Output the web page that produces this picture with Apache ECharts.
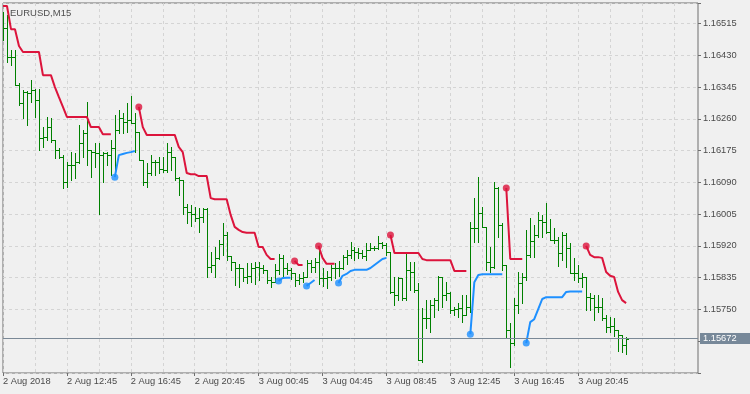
<!DOCTYPE html>
<html><head><meta charset="utf-8">
<script src="https://cdn.jsdelivr.net/npm/echarts@6/dist/echarts.min.js"></script>
<style>html,body{margin:0;padding:0;background:#f0f0f0}#c{width:750px;height:394px}</style>
</head><body><div id="c"></div>
<script>
const chartTitle = 'EURUSD,M15';
const tickLabels = ['2 Aug 2018','2 Aug 12:45','2 Aug 16:45','2 Aug 20:45','3 Aug 00:45','3 Aug 04:45','3 Aug 08:45','3 Aug 12:45','3 Aug 16:45','3 Aug 20:45'];
const bidPrice = 1.15672;

const opens = [1.16524,1.16503,1.16425,1.16425,1.16351,1.16302,1.16332,1.16329,1.16337,1.16310,
1.16209,1.16211,1.16238,1.16203,1.16177,1.16158,1.16091,1.16137,1.16137,1.16145,
1.16195,1.16222,1.16177,1.16171,1.16169,1.16163,1.16169,1.16163,1.16182,1.16230,
1.16262,1.16252,1.16257,1.16249,1.16225,1.16150,1.16091,1.16115,1.16145,1.16145,
1.16126,1.16123,1.16171,1.16158,1.16102,1.16096,1.16024,1.16011,1.16005,1.15995,
1.15997,1.16019,1.15864,1.15869,1.15888,1.15925,1.15949,1.15893,1.15877,1.15861,
1.15861,1.15837,1.15840,1.15861,1.15864,1.15861,1.15856,1.15829,1.15823,1.15856,
1.15888,1.15861,1.15856,1.15848,1.15829,1.15834,1.15837,1.15874,1.15864,1.15877,
1.15834,1.15834,1.15837,1.15861,1.15861,1.15861,1.15890,1.15896,1.15909,1.15904,
1.15901,1.15893,1.15909,1.15914,1.15914,1.15928,1.15922,1.15904,1.15797,1.15789,
1.15834,1.15781,1.15856,1.15850,1.15802,1.15615,1.15727,1.15727,1.15762,1.15775,
1.15837,1.15789,1.15794,1.15749,1.15751,1.15754,1.15735,1.15757,1.15968,1.15968,
1.16008,1.15971,1.15877,1.15864,1.16075,1.15976,1.15869,1.15695,1.15660,1.15762,
1.15821,1.15837,1.15896,1.15933,1.15949,1.15989,1.15984,1.15957,1.15936,1.15936,
1.15901,1.15949,1.15914,1.15848,1.15848,1.15834,1.15837,1.15783,1.15781,1.15757,
1.15757,1.15727,1.15703,1.15706,1.15695,1.15682,1.15655];

const highs = [1.16546,1.16538,1.16444,1.16444,1.16356,1.16337,1.16335,1.16364,1.16340,1.16340,
1.16238,1.16265,1.16262,1.16203,1.16182,1.16163,1.16145,1.16171,1.16169,1.16244,
1.16230,1.16305,1.16177,1.16195,1.16195,1.16171,1.16171,1.16203,1.16270,1.16284,
1.16276,1.16302,1.16321,1.16276,1.16225,1.16150,1.16142,1.16163,1.16150,1.16158,
1.16158,1.16195,1.16185,1.16158,1.16104,1.16096,1.16032,1.16029,1.16024,1.16021,
1.16021,1.16021,1.15904,1.15917,1.15936,1.15981,1.15957,1.15893,1.15877,1.15872,
1.15861,1.15874,1.15874,1.15877,1.15877,1.15869,1.15856,1.15837,1.15872,1.15898,
1.15896,1.15874,1.15861,1.15848,1.15845,1.15850,1.15882,1.15882,1.15888,1.15909,
1.15861,1.15853,1.15869,1.15874,1.15880,1.15896,1.15909,1.15930,1.15917,1.15914,
1.15909,1.15928,1.15928,1.15920,1.15947,1.15930,1.15928,1.15904,1.15837,1.15837,
1.15834,1.15904,1.15877,1.15877,1.15821,1.15754,1.15775,1.15775,1.15781,1.15840,
1.15837,1.15823,1.15797,1.15757,1.15767,1.15789,1.15789,1.15984,1.16048,1.16104,
1.16024,1.15971,1.15917,1.16091,1.16078,1.15981,1.15869,1.15714,1.15781,1.15850,
1.15848,1.15963,1.15995,1.15976,1.16011,1.16003,1.16035,1.15992,1.15968,1.15944,
1.15957,1.15955,1.15928,1.15888,1.15869,1.15848,1.15837,1.15794,1.15789,1.15789,
1.15781,1.15735,1.15730,1.15727,1.15695,1.15682,1.15676];

const lows = [1.16471,1.16412,1.16404,1.16351,1.16297,1.16262,1.16244,1.16305,1.16265,1.16177,
1.16185,1.16203,1.16198,1.16155,1.16155,1.16075,1.16078,1.16096,1.16102,1.16142,
1.16158,1.16137,1.16104,1.16131,1.16005,1.16091,1.16137,1.16110,1.16123,1.16222,
1.16222,1.16225,1.16249,1.16171,1.16150,1.16083,1.16078,1.16110,1.16110,1.16115,
1.16118,1.16118,1.16123,1.16096,1.16056,1.16005,1.15981,1.15973,1.15987,1.15957,
1.15984,1.15837,1.15850,1.15837,1.15885,1.15896,1.15882,1.15856,1.15815,1.15810,
1.15826,1.15821,1.15823,1.15818,1.15829,1.15848,1.15821,1.15810,1.15823,1.15845,
1.15837,1.15845,1.15831,1.15813,1.15818,1.15823,1.15837,1.15850,1.15850,1.15818,
1.15813,1.15807,1.15829,1.15834,1.15840,1.15858,1.15872,1.15888,1.15882,1.15888,
1.15888,1.15882,1.15909,1.15909,1.15912,1.15914,1.15896,1.15794,1.15762,1.15775,
1.15775,1.15775,1.15802,1.15797,1.15615,1.15609,1.15700,1.15690,1.15730,1.15749,
1.15757,1.15775,1.15741,1.15735,1.15730,1.15716,1.15735,1.15743,1.15930,1.15930,
1.15971,1.15856,1.15850,1.15861,1.15944,1.15856,1.15676,1.15596,1.15655,1.15741,
1.15767,1.15829,1.15890,1.15890,1.15944,1.15944,1.15955,1.15936,1.15928,1.15866,
1.15882,1.15864,1.15848,1.15829,1.15823,1.15810,1.15749,1.15749,1.15722,1.15743,
1.15722,1.15690,1.15690,1.15679,1.15639,1.15636,1.15631];

const closes = [1.16503,1.16425,1.16425,1.16351,1.16302,1.16332,1.16329,1.16337,1.16310,1.16209,
1.16211,1.16238,1.16203,1.16177,1.16158,1.16091,1.16137,1.16137,1.16145,1.16195,
1.16222,1.16177,1.16171,1.16169,1.16163,1.16169,1.16163,1.16182,1.16230,1.16262,
1.16252,1.16257,1.16249,1.16225,1.16150,1.16091,1.16115,1.16145,1.16145,1.16126,
1.16123,1.16171,1.16158,1.16102,1.16096,1.16024,1.16011,1.16005,1.15995,1.15997,
1.16019,1.15864,1.15869,1.15888,1.15925,1.15949,1.15893,1.15877,1.15861,1.15861,
1.15837,1.15840,1.15861,1.15864,1.15861,1.15856,1.15829,1.15823,1.15856,1.15888,
1.15861,1.15856,1.15848,1.15829,1.15834,1.15837,1.15874,1.15864,1.15877,1.15834,
1.15834,1.15837,1.15861,1.15861,1.15861,1.15890,1.15896,1.15909,1.15904,1.15901,
1.15893,1.15909,1.15914,1.15914,1.15928,1.15922,1.15904,1.15797,1.15789,1.15834,
1.15781,1.15856,1.15850,1.15802,1.15615,1.15727,1.15727,1.15762,1.15775,1.15837,
1.15789,1.15794,1.15749,1.15751,1.15754,1.15735,1.15757,1.15968,1.15968,1.16008,
1.15971,1.15877,1.15864,1.16075,1.15976,1.15869,1.15695,1.15660,1.15762,1.15821,
1.15837,1.15896,1.15933,1.15949,1.15989,1.15984,1.15957,1.15936,1.15936,1.15901,
1.15949,1.15914,1.15848,1.15848,1.15834,1.15837,1.15783,1.15781,1.15757,1.15757,
1.15727,1.15703,1.15706,1.15695,1.15682,1.15655,1.15672];

const redStop = [1.16562,1.16562,1.16500,1.16500,1.16455,1.16439,1.16439,1.16439,1.16439,1.16439,
1.16377,1.16377,1.16377,1.16345,1.16318,1.16292,1.16265,1.16265,1.16265,1.16265,
1.16265,1.16265,1.16238,1.16238,1.16238,1.16219,1.16219,1.16219,null,null,
null,null,null,null,1.16292,1.16238,1.16217,1.16217,1.16217,1.16217,
1.16217,1.16217,1.16217,1.16217,1.16185,1.16171,1.16115,1.16112,1.16112,1.16107,
1.16107,1.16107,1.16048,1.16045,1.16045,1.16045,1.16045,1.16003,1.15971,1.15963,
1.15957,1.15955,1.15955,1.15955,1.15917,1.15917,1.15896,1.15885,1.15885,null,
null,null,null,1.15880,1.15869,1.15869,null,null,null,1.15920,
1.15888,1.15872,1.15872,1.15872,null,null,null,null,null,null,
null,null,null,null,null,null,null,1.15949,1.15901,1.15901,
1.15901,1.15901,1.15901,1.15901,1.15901,1.15885,1.15882,1.15882,1.15882,1.15882,
1.15882,1.15882,1.15882,1.15853,1.15853,1.15853,1.15853,null,null,null,
null,null,null,null,null,null,1.16075,1.15885,1.15885,1.15885,
1.15885,null,null,null,null,null,null,null,null,null,
null,null,null,null,null,null,1.15920,1.15896,1.15890,1.15890,
1.15888,1.15850,1.15840,1.15837,1.15797,1.15775,1.15767];

const blueStop = [null,null,null,null,null,null,null,null,null,null,
null,null,null,null,null,null,null,null,null,null,
null,null,null,null,null,null,null,null,1.16104,1.16163,
1.16166,1.16169,1.16171,1.16174,null,null,null,null,null,null,
null,null,null,null,null,null,null,null,null,null,
null,null,null,null,null,null,null,null,null,null,
null,null,null,null,null,null,null,null,null,1.15826,
1.15834,1.15835,1.15835,null,null,null,1.15813,1.15821,1.15829,null,
null,null,null,null,1.15821,1.15840,1.15845,1.15853,1.15856,1.15856,
1.15856,1.15856,1.15861,1.15869,1.15877,1.15885,1.15888,null,null,null,
null,null,null,null,null,null,null,null,null,null,
null,null,null,null,null,null,null,1.15684,1.15823,1.15842,
1.15844,1.15844,1.15844,1.15844,1.15844,1.15844,null,null,null,null,
null,1.15660,1.15716,1.15724,1.15751,1.15778,1.15783,1.15783,1.15783,1.15783,
1.15783,1.15797,1.15798,1.15798,1.15798,1.15798,null,null,null,null,
null,null,null,null,null,null,null];

const redStarts = [34, 73, 79, 97, 126, 146];
const blueStarts = [28, 69, 76, 84, 117, 131];

// category slots (15-minute bars), chart shows 175 slots
const slotCount = 175;
const categories = [];
for (let i = 0; i < slotCount; i++) {
  const m = 8 * 60 + 45 + i * 15;
  const d = 2 + Math.floor(m / 1440), mm = m % 1440;
  categories.push(d + ' Aug ' + String(Math.floor(mm / 60)).padStart(2, '0') + ':' + String(mm % 60).padStart(2, '0'));
}

const FONT = 'Liberation Sans';
const TXT = '#4a4a4a';
const GRIDC = '#d4d4d4';
const BARC = '#008000';
const labelIdx = (i) => i % 16 === 0 && (i / 16) < tickLabels.length;

const yGridColors = [];
for (let k = 0; k < 13; k++) yGridColors.push(k === 1 ? 'rgba(0,0,0,0)' : GRIDC);

const chart = echarts.init(document.getElementById('c'), null, {renderer: 'canvas'});
chart.setOption({
  animation: false,
  backgroundColor: '#f0f0f0',
  title: {text: chartTitle, left: 5, top: 3, textStyle: {fontFamily: FONT, fontSize: 9.5, fontWeight: 'normal', color: '#505050'}},
  grid: {left: 2, right: 52, top: 3, bottom: 21, show: true, borderColor: '#6e6e6e', borderWidth: 1, backgroundColor: 'transparent'},
  xAxis: {
    type: 'category', data: categories, boundaryGap: false,
    axisLine: {show: false},
    axisTick: {show: true, length: 3, interval: (i) => labelIdx(i), lineStyle: {color: '#6e6e6e'}},
    axisLabel: {interval: (i) => labelIdx(i), formatter: (v, i) => labelIdx(i) ? tickLabels[i / 16] : '',
      align: 'left', margin: 4, fontFamily: FONT, fontSize: 9.3, color: TXT},
    splitLine: {show: true, interval: (i) => i % 8 === 0, lineStyle: {color: GRIDC, type: [3, 3], width: 1}}
  },
  yAxis: {
    type: 'value', position: 'right', min: 1.15580, max: 1.16570, interval: 0.00085,
    axisLine: {show: false},
    axisTick: {show: true, length: 3, lineStyle: {color: '#6e6e6e'}},
    axisLabel: {margin: 5, fontFamily: FONT, fontSize: 9.3, color: TXT,
      formatter: (v) => (v > 1.15700 && v < 1.16520) ? v.toFixed(5) : ''},
    splitLine: {show: true, lineStyle: {color: yGridColors, type: [3, 3], width: 1}}
  },
  series: [
    {
      type: 'custom', name: 'bars', clip: true, silent: true,
      renderItem: (params, api) => {
        const i = api.value(0);
        const pO = api.coord([i, api.value(1)]);
        const pH = api.coord([i, api.value(2)]);
        const pL = api.coord([i, api.value(3)]);
        const pC = api.coord([i, api.value(4)]);
        const x = Math.round(pH[0]);
        const yH = Math.round(pH[1]), yL = Math.round(pL[1]);
        return {type: 'group', children: [
          {type: 'rect', shape: {x: x, y: yH, width: 1, height: Math.max(1, yL - yH + 1)}, style: {fill: BARC}},
          {type: 'rect', shape: {x: x - 2, y: Math.round(pO[1]), width: 2, height: 1}, style: {fill: BARC}},
          {type: 'rect', shape: {x: x + 1, y: Math.round(pC[1]), width: 2, height: 1}, style: {fill: BARC}}
        ]};
      },
      encode: {x: 0, y: [1, 2, 3, 4]},
      data: opens.map((o, i) => [i, o, highs[i], lows[i], closes[i]]),
      z: 2
    },
    {
      type: 'line', name: 'red', data: redStop, symbol: 'none', connectNulls: false, silent: true,
      lineStyle: {color: '#dc143c', width: 2}, z: 3,
      markLine: {
        silent: true, symbol: ['none', 'none'], precision: 5, data: [{yAxis: bidPrice}],
        lineStyle: {color: '#7a8896', type: 'solid', width: 1},
        label: {position: 'end', distance: 2, formatter: () => bidPrice.toFixed(5),
          backgroundColor: '#778899', color: '#ffffff', fontFamily: FONT, fontSize: 9.3,
          padding: [1, 16, 0, 3], lineHeight: 10}
      }
    },
    {
      type: 'line', name: 'blue', data: blueStop, symbol: 'none', connectNulls: false, silent: true,
      lineStyle: {color: '#1e90ff', width: 2}, z: 3
    },
    {
      type: 'scatter', data: redStarts.map(i => [i, redStop[i]]), symbolSize: 7, silent: true,
      itemStyle: {color: '#dc143c'}, z: 4
    },
    {
      type: 'scatter', data: blueStarts.map(i => [i, blueStop[i]]), symbolSize: 7, silent: true,
      itemStyle: {color: '#1e90ff'}, z: 4
    }
  ]
});
</script>
</body></html>
